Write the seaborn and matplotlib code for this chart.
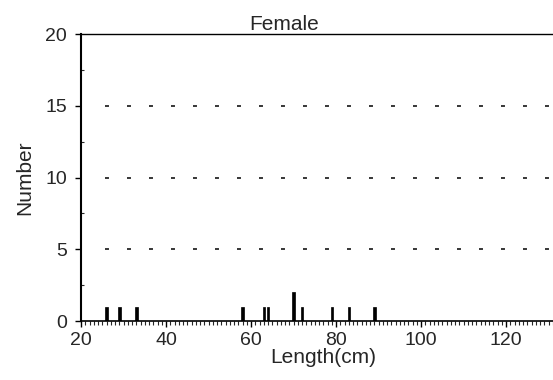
import numpy as np
import pandas as pd
import matplotlib
matplotlib.use('Agg')
import matplotlib.pyplot as plt
import seaborn as sns
from matplotlib.ticker import MultipleLocator

# data
lengths = [26, 29, 33, 58, 63, 64, 70, 72, 79, 83, 89]
counts = [1, 1, 1, 1, 1, 1, 2, 1, 1, 1, 1]
df = pd.DataFrame({'length': lengths, 'count': counts})

sns.set_style('ticks')
plt.rcParams['font.family'] = ['Liberation Sans', 'DejaVu Sans']

fig = plt.figure(figsize=(5.53, 3.80), dpi=100)
ax = fig.add_axes([0.1465, 0.155, 0.8535, 0.7555])

sns.barplot(data=df, x='length', y='count', native_scale=True, width=0.6,
            color='black', saturation=1, edgecolor='black', linewidth=0.5, ax=ax)

for yv in [5, 10, 15]:
    ax.axhline(yv, xmin=0.05, xmax=1, color='black', lw=1.1, ls=(0, (2.6, 11.8)))

ax.set_xlim(20, 131)
ax.set_ylim(0, 20)
ax.set_xticks([20, 40, 60, 80, 100, 120])
ax.set_yticks([0, 5, 10, 15, 20])
ax.xaxis.set_minor_locator(MultipleLocator(1))
ax.yaxis.set_minor_locator(MultipleLocator(2.5))
ax.tick_params(axis='both', which='major', labelsize=14, length=4, width=1,
               color='black', pad=4)
ax.tick_params(axis='y', which='major', pad=6)
ax.tick_params(axis='x', which='minor', length=3, width=0.8, direction='out')
ax.tick_params(axis='y', which='minor', length=2, width=0.8, direction='in')

for s in ['left', 'bottom', 'top']:
    ax.spines[s].set_visible(True)
    ax.spines[s].set_color('black')
ax.spines['left'].set_linewidth(1.5)
ax.spines['bottom'].set_linewidth(1.2)
ax.spines['top'].set_linewidth(1.0)
ax.spines['right'].set_visible(False)

ax.set_xlabel('Length(cm)', fontsize=15, labelpad=3)
ax.xaxis.set_label_coords(0.513, -0.095, transform=ax.transAxes)
ax.xaxis.label.set_va('top')
ax.set_ylabel('Number', fontsize=15, labelpad=8)
ax.set_title('Female', fontsize=15, x=0.43, pad=2)

fig.savefig('out.png', dpi=100)
